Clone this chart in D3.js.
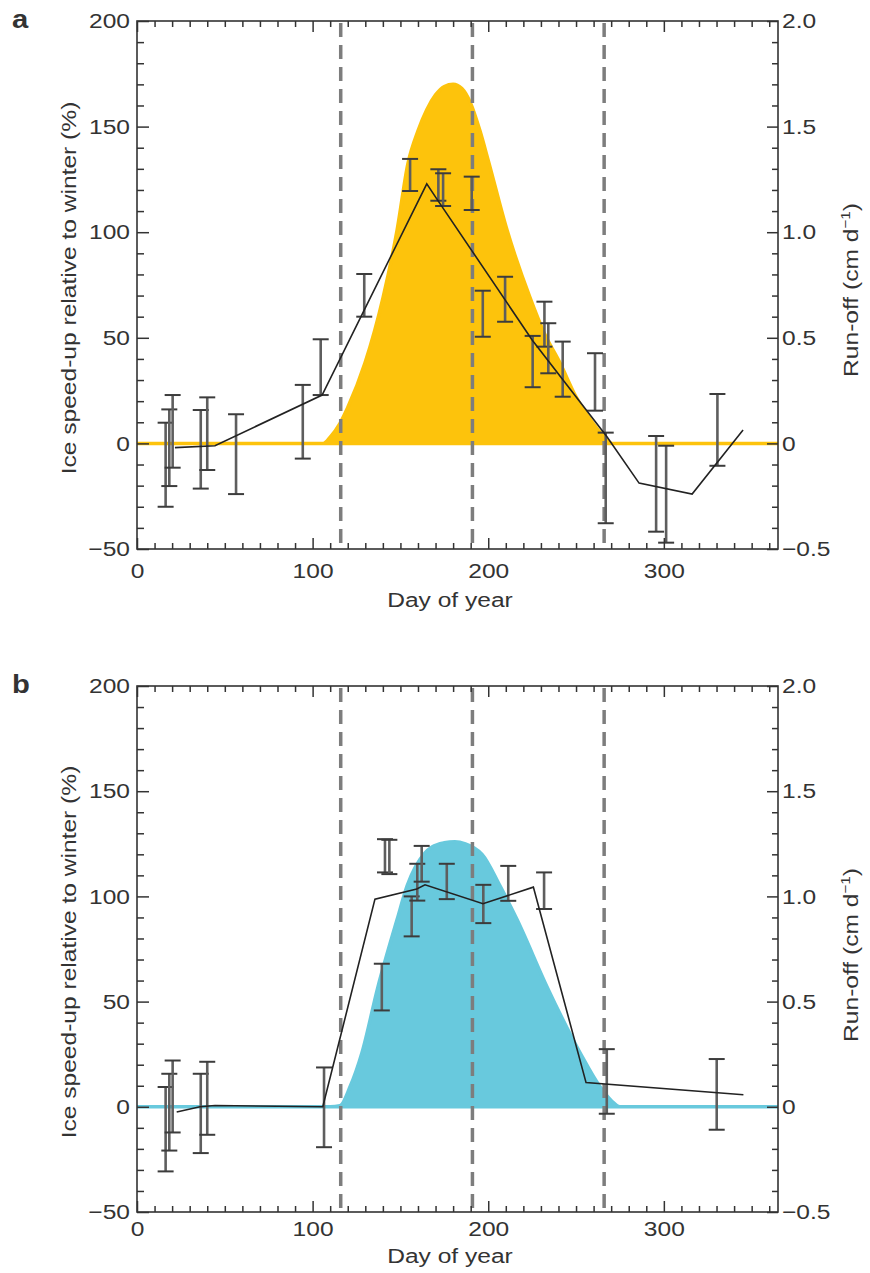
<!DOCTYPE html>
<html><head><meta charset="utf-8">
<script src="https://cdn.jsdelivr.net/npm/d3@7"></script>
<style>
body{margin:0;background:#fff}
svg text{font-family:"Liberation Sans",Arial,Helvetica,sans-serif;fill:#333}
</style></head><body><svg id="c" width="870" height="1273"></svg>
<script>
// ---------- shared ticks ----------
const dayTicks=[0,100,200,300];
const speedTicks=[-50,0,50,100,150,200];
const speedTickLabels=["\u221250","0","50","100","150","200"];
const runoffTicks=[-0.5,0,0.5,1.0,1.5,2.0];
const runoffTickLabels=["\u22120.5","0","0.5","1.0","1.5","2.0"];
const markerDays=[116,191,266];

// ---------- panel a ----------
const runoffDayA=[0,100,106,110,115.6,120,129.8,140.1,148.1,154.3,160,165,170,175,180,185,190,195.3,200,210.7,223.8,232,240.9,250,259.7,265,270.5,365];
const runoffA   =[0,0,0,0.03,0.095,0.17,0.38,0.69,1.01,1.326,1.48,1.58,1.65,1.69,1.70,1.68,1.61,1.48,1.34,1.01,0.69,0.52,0.38,0.22,0.095,0.04,0,0];
const lineDayA=[21.6,44.4,105.4,165.0,170.7,225,267.7,285.9,316.1,345.1];
const lineA   =[-2.0,-1.1,22.9,122.9,115.8,49,3.0,-18.8,-24.0,6.3];
const errDayA =[16.3,18.4,20.3,36.3,40.0,56.4,94.4,104.6,129.4,155.5,171.6,174.3,190.6,196.9,209.6,225.3,232.0,234.2,242.4,260.8,266.9,295.6,301.3,330.5];
const errHighA=[9.8,16.1,22.9,15.8,21.8,13.8,27.7,49.3,80.2,134.7,129.8,127.9,126.3,72.3,78.9,50.9,67.1,56.9,48.2,42.7,5.1,3.5,-1.1,23.4];
const errLowA =[-30.0,-20.2,-11.5,-21.4,-12.6,-24.0,-7.2,22.9,60.0,119.5,114.9,112.4,110.5,50.5,57.6,26.6,45.8,33.2,22.1,15.5,-37.8,-41.8,-47.0,-10.6];

// ---------- panel b ----------
const runoffDayB=[0,110,115.6,121.3,128.1,137.2,148.1,153.8,164,168,175,181,187,192,196.5,206.7,216.4,233.5,252.3,263.7,270,275,365];
const runoffB   =[0,0,0.005,0.095,0.257,0.57,0.89,1.05,1.207,1.235,1.255,1.26,1.25,1.23,1.2,1.05,0.89,0.57,0.257,0.095,0.03,0,0];
const lineDayB=[22.6,35.9,44.4,105.8,135.5,159.3,164.0,197.0,225.7,255.7,345.3];
const lineB   =[-2.5,0,0.6,0,98.7,103.5,105.5,96.5,104.4,11.5,5.7];
const errDayB =[16.3,18.4,20.3,36.3,40.0,106.5,139.4,141.2,143.7,156.4,159.6,162.1,176.4,197.2,211.4,231.8,267.5,330.1];
const errHighB=[9.4,15.7,22.0,15.7,21.4,18.7,68.0,127.2,126.9,100,115.5,124,115.5,105.5,114.5,111.4,27.4,22.7];
const errLowB =[-30.7,-20.8,-12.2,-22.0,-13.3,-19.2,45.8,111.4,110.6,81,98,107,98.7,87.3,97.9,94,-3.3,-10.9];

const svg=d3.select("#c");
const X0=137, X1=778, SX=1.17;

function stretch(sel,origin){
  sel.style("transform-box","fill-box").style("transform-origin",origin).style("transform","scaleX("+SX+")");
}

function panel(cfg){
  const g=svg.append("g");
  const x=d3.scaleLinear().domain([0,365]).range([X0,X1]);
  const y=d3.scaleLinear().domain([-50,200]).range([cfg.bottom,cfg.top]);
  const yr=d3.scaleLinear().domain([-0.5,2.0]).range([cfg.bottom,cfg.top]);
  const cid="clip"+cfg.id;
  svg.append("defs").append("clipPath").attr("id",cid).append("rect")
    .attr("x",X0).attr("y",cfg.top).attr("width",X1-X0).attr("height",cfg.bottom-cfg.top);

  // run-off area
  const area=d3.area().x((d,i)=>x(cfg.runDay[i])).y0(yr(0)).y1(d=>yr(d)).curve(d3.curveMonotoneX);
  g.append("path").datum(cfg.run).attr("d",area).attr("clip-path","url(#"+cid+")")
    .attr("fill",cfg.color).attr("stroke",cfg.color).attr("stroke-width",3.5);

  // dashed markers
  g.selectAll(".dash").data(markerDays).join("line")
    .attr("x1",d=>x(d)).attr("x2",d=>x(d)).attr("y1",cfg.top+2).attr("y2",cfg.bottom)
    .attr("stroke","#7d7d7d").attr("stroke-width",3.5).attr("stroke-dasharray","14,8");

  // error bars
  const eb=g.append("g");
  cfg.errDay.forEach((d,i)=>{
    const xx=x(d);
    eb.append("line").attr("x1",xx).attr("x2",xx).attr("y1",y(cfg.errHigh[i])).attr("y2",y(cfg.errLow[i]))
      .attr("stroke","#5e5e5e").attr("stroke-width",2.6);
    [cfg.errHigh[i],cfg.errLow[i]].forEach(v=>{
      eb.append("line").attr("x1",xx-8).attr("x2",xx+8).attr("y1",y(v)).attr("y2",y(v))
        .attr("stroke","#3c3c3c").attr("stroke-width",2);
    });
  });

  // model line
  const line=d3.line().x((d,i)=>x(cfg.lineDay[i])).y(d=>y(d));
  g.append("path").datum(cfg.line).attr("d",line).attr("fill","none")
    .attr("stroke","#222").attr("stroke-width",1.6);

  // axes
  const minorDays=d3.range(0,366,10).filter(d=>d%100!==0);
  const minorY=d3.range(-50,201,10).filter(d=>d%50!==0);
  const minorR=minorY.map(v=>v/100);
  const ax=g.append("g").attr("class","axes");
  function style(a){a.select(".domain").remove();a.selectAll(".tick line").attr("stroke","#333").attr("stroke-width",1.5);}
  // bottom
  ax.append("g").attr("transform",`translate(0,${cfg.bottom})`)
    .call(d3.axisBottom(x).tickValues(minorDays).tickSize(-6).tickFormat("")).call(style);
  const bt=ax.append("g").attr("transform",`translate(0,${cfg.bottom})`)
    .call(d3.axisBottom(x).tickValues(dayTicks).tickSize(-11).tickPadding(cfg.xPad)).call(style);
  bt.selectAll("text").attr("font-size",21).attr("fill","#333");
  stretch(bt.selectAll("text"),"50% 50%");
  // top
  ax.append("g").attr("transform",`translate(0,${cfg.top})`)
    .call(d3.axisTop(x).tickValues(minorDays).tickSize(-6).tickFormat("")).call(style);
  ax.append("g").attr("transform",`translate(0,${cfg.top})`)
    .call(d3.axisTop(x).tickValues(dayTicks).tickSize(-11).tickFormat("")).call(style);
  // left
  ax.append("g").attr("transform",`translate(${X0},0)`)
    .call(d3.axisLeft(y).tickValues(minorY).tickSize(-7).tickFormat("")).call(style);
  const lt=ax.append("g").attr("transform",`translate(${X0},0)`)
    .call(d3.axisLeft(y).tickValues(speedTicks).tickSize(-12).tickPadding(7)
      .tickFormat((d,i)=>speedTickLabels[i])).call(style);
  lt.selectAll("text").attr("font-size",21).attr("fill","#333");
  stretch(lt.selectAll("text"),"100% 50%");
  // right
  ax.append("g").attr("transform",`translate(${X1},0)`)
    .call(d3.axisRight(yr).tickValues(minorR).tickSize(-6).tickFormat("")).call(style);
  const rt=ax.append("g").attr("transform",`translate(${X1},0)`)
    .call(d3.axisRight(yr).tickValues(runoffTicks).tickSize(-11).tickPadding(4)
      .tickFormat((d,i)=>runoffTickLabels[i])).call(style);
  rt.selectAll("text").attr("font-size",21).attr("fill","#333");
  stretch(rt.selectAll("text"),"0% 50%");
  // frame
  ax.append("rect").attr("x",X0).attr("y",cfg.top).attr("width",X1-X0).attr("height",cfg.bottom-cfg.top)
    .attr("fill","none").attr("stroke","#333").attr("stroke-width",1.6);

  // titles
  const dt=g.append("text").attr("x",450).attr("y",cfg.bottom+cfg.titlePad).attr("text-anchor","middle")
    .attr("font-size",21).text("Day of year");
  stretch(dt,"50% 50%");
  g.append("text").attr("transform",`translate(76,${(cfg.top+cfg.bottom)/2+3}) rotate(-90) scale(${SX},1)`)
    .attr("text-anchor","middle").attr("font-size",21).text("Ice speed-up relative to winter (%)");
  const rtt=g.append("text").attr("transform",`translate(858,${cfg.top+269}) rotate(-90) scale(${SX},1)`)
    .attr("text-anchor","middle").attr("font-size",21);
  rtt.append("tspan").text("Run-off (cm d");
  rtt.append("tspan").attr("font-size",13).attr("dy",-8).text("\u22121");
  rtt.append("tspan").attr("dy",8).text(")");
  const lt2=g.append("text").attr("x",12).attr("y",cfg.top+7).attr("font-size",25)
    .attr("font-weight","bold").attr("fill","#222").text(cfg.letter);
  stretch(lt2,"0% 50%");
}

panel({id:"a",letter:"a",top:21,bottom:549,xPad:14,titlePad:58,color:"#fdc30c",
  runDay:runoffDayA,run:runoffA,lineDay:lineDayA,line:lineA,errDay:errDayA,errHigh:errHighA,errLow:errLowA});
panel({id:"b",letter:"b",top:686,bottom:1212,xPad:9,titlePad:51,color:"#68c9dd",
  runDay:runoffDayB,run:runoffB,lineDay:lineDayB,line:lineB,errDay:errDayB,errHigh:errHighB,errLow:errLowB});
</script></body></html>
